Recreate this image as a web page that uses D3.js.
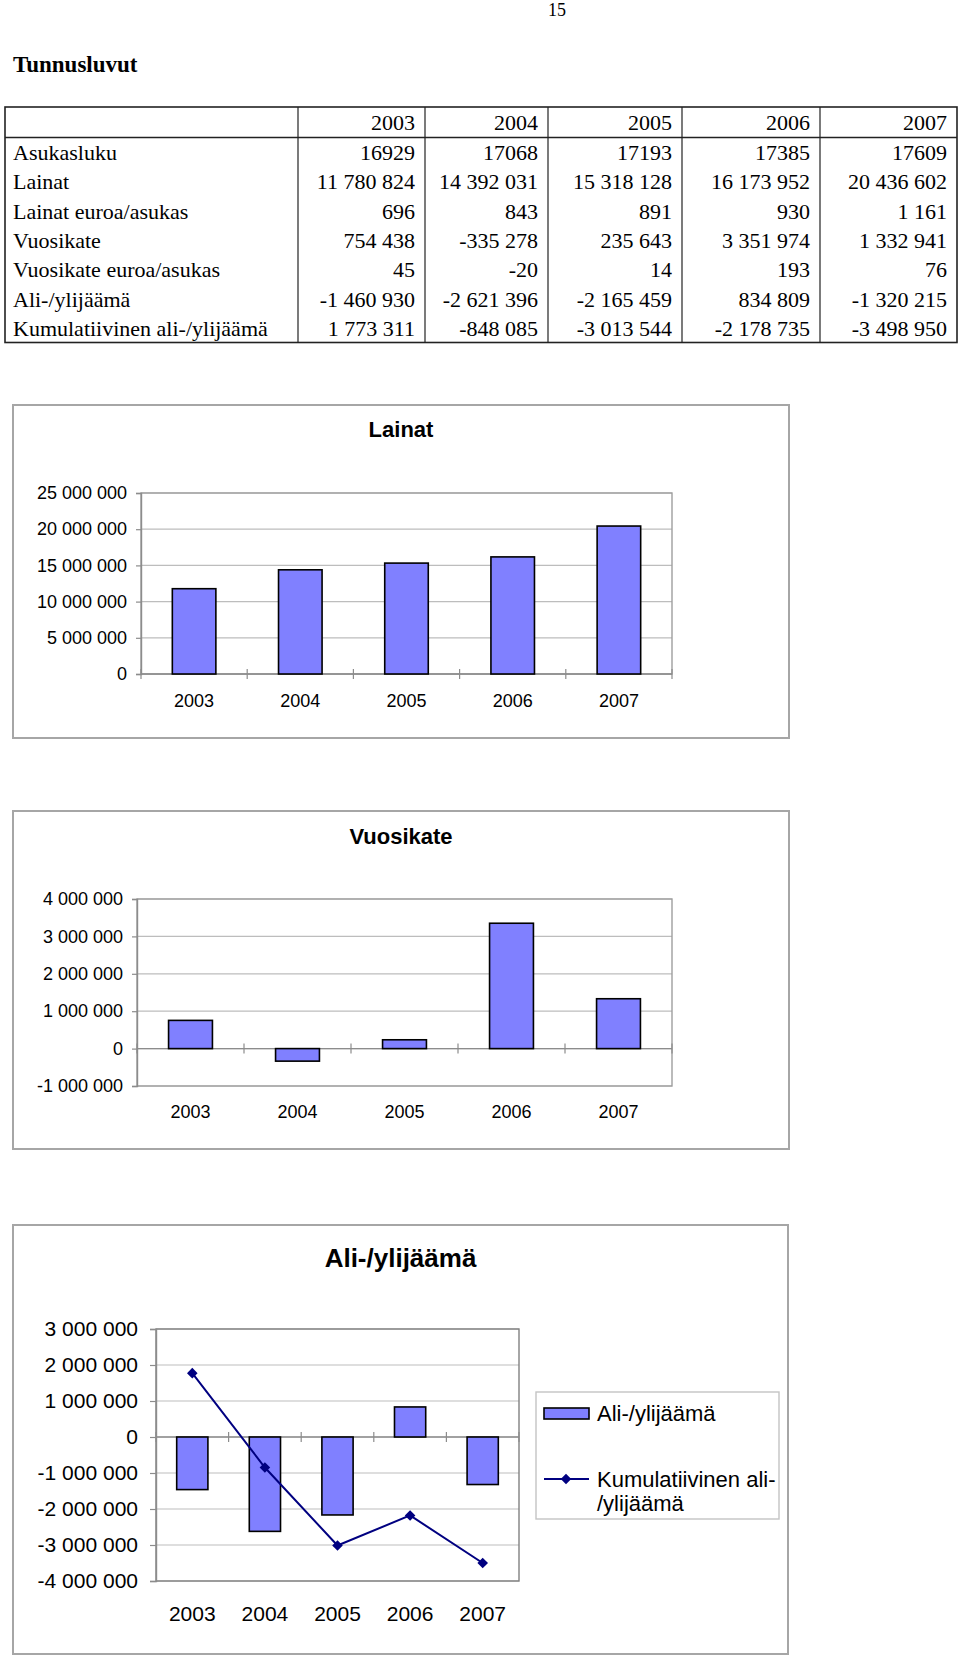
<!DOCTYPE html>
<html lang="fi">
<head>
<meta charset="UTF-8" />
<title>Tunnusluvut</title>
<script src="https://d3js.org/d3.v7.min.js"></script>
<style>
    body { margin: 0; background: #fff; }
    svg { display: block; }
</style>
</head>
<body>
<div id="page"></div>
<script>
// data
const years = ["2003", "2004", "2005", "2006", "2007"];
const asukasluku = [16929, 17068, 17193, 17385, 17609];
const lainat = [11780824, 14392031, 15318128, 16173952, 20436602];
const lainatPerAsukas = [696, 843, 891, 930, 1161];
const vuosikate = [754438, -335278, 235643, 3351974, 1332941];
const vuosikatePerAsukas = [45, -20, 14, 193, 76];
const aliYli = [-1460930, -2621396, -2165459, 834809, -1320215];
const kumulatiivinen = [1773311, -848085, -3013544, -2178735, -3498950];

const rowLabels = ["Asukasluku", "Lainat", "Lainat euroa/asukas", "Vuosikate",
    "Vuosikate euroa/asukas", "Ali-/ylijäämä", "Kumulatiivinen ali-/ylijäämä"];
const rowValues = [asukasluku, lainat, lainatPerAsukas, vuosikate,
    vuosikatePerAsukas, aliYli, kumulatiivinen];
const rowGrouped = [false, true, true, true, true, true, true];

const locale = d3.formatLocale({ decimal: ",", thousands: " ", grouping: [3], currency: ["", ""], minus: "-" });
const fmtGroup = locale.format(",d");
const fmtPlain = locale.format("d");

const W = 960, H = 1656;
const svg = d3.select("#page").append("svg")
    .attr("width", W).attr("height", H)
    .attr("xmlns", "http://www.w3.org/2000/svg");

const serif = "'Liberation Serif', 'Times New Roman', serif";
const sans = "'Liberation Sans', Arial, sans-serif";

// page number + heading
svg.append("text").attr("x", 557).attr("y", 16)
    .attr("text-anchor", "middle")
    .style("font-family", serif).style("font-size", "18px")
    .text("15");

svg.append("text").attr("x", 13).attr("y", 72)
    .style("font-family", serif).style("font-size", "23px").style("font-weight", "bold")
    .text("Tunnusluvut");

// table
const colEdges = [5, 298, 425, 548, 682, 820, 957];
const tableTop = 107, headerBottom = 137.5, tableBottom = 342.5;
const rowY = d3.scaleBand().domain(rowLabels).range([headerBottom, tableBottom]);

const table = svg.append("g").style("font-family", serif).style("font-size", "22px");

table.append("rect")
    .attr("x", colEdges[0]).attr("y", tableTop)
    .attr("width", colEdges[6] - colEdges[0]).attr("height", tableBottom - tableTop)
    .attr("fill", "none").attr("stroke", "#222").attr("stroke-width", 1.6);

table.append("line")
    .attr("x1", colEdges[0]).attr("x2", colEdges[6])
    .attr("y1", headerBottom).attr("y2", headerBottom)
    .attr("stroke", "#222").attr("stroke-width", 1.4);

table.selectAll(".col-line").data(colEdges.slice(1, 6)).join("line")
    .attr("class", "col-line")
    .attr("x1", d => d).attr("x2", d => d)
    .attr("y1", tableTop).attr("y2", tableBottom)
    .attr("stroke", "#222").attr("stroke-width", 1.2);

table.selectAll(".head").data(years).join("text")
    .attr("class", "head")
    .attr("x", (d, i) => colEdges[i + 2] - 10)
    .attr("y", (tableTop + headerBottom) / 2 + 8)
    .attr("text-anchor", "end")
    .text(d => d);

rowLabels.forEach((label, r) => {
    const y = rowY(label) + rowY.bandwidth() / 2 + 8;
    table.append("text").attr("x", 13).attr("y", y).text(label);
    const f = rowGrouped[r] ? fmtGroup : fmtPlain;
    table.selectAll(null).data(rowValues[r]).join("text")
        .attr("x", (d, i) => colEdges[i + 2] - 10)
        .attr("y", y)
        .attr("text-anchor", "end")
        .text(d => f(d));
});

// bar chart helper
function drawChart(opt) {
    const g = svg.append("g").style("font-family", sans);

    g.append("rect")
        .attr("x", opt.frame.x).attr("y", opt.frame.y)
        .attr("width", opt.frame.w).attr("height", opt.frame.h)
        .attr("fill", "#fff").attr("stroke", "#a6a6a6").attr("stroke-width", 2);

    g.append("text")
        .attr("x", opt.frame.x + opt.frame.w / 2).attr("y", opt.titleY)
        .attr("text-anchor", "middle")
        .style("font-size", opt.titleSize + "px").style("font-weight", "bold")
        .text(opt.title);

    const p = opt.plot;
    const x = d3.scaleBand().domain(years).range([p.l, p.r]);
    const y = d3.scaleLinear().domain(opt.domain).range([p.b, p.t]);
    const ticks = d3.range(opt.domain[0], opt.domain[1] + 1, opt.step);

    // gridlines
    g.selectAll(".grid").data(ticks).join("line")
        .attr("x1", p.l).attr("x2", p.r)
        .attr("y1", d => y(d)).attr("y2", d => y(d))
        .attr("stroke", "#bdbdbd").attr("stroke-width", 1.2);

    g.append("rect")
        .attr("x", p.l).attr("y", p.t)
        .attr("width", p.r - p.l).attr("height", p.b - p.t)
        .attr("fill", "none").attr("stroke", opt.plotStroke).attr("stroke-width", 1.4);

    // y axis
    const ya = g.append("g").attr("transform", `translate(${p.l},0)`)
        .call(d3.axisLeft(y).tickValues(ticks).tickFormat(fmtGroup)
            .tickSize(opt.yTickSize).tickPadding(opt.yPad));
    ya.select(".domain").attr("stroke", "#8c8c8c").attr("stroke-width", 1.4);
    ya.selectAll(".tick line").attr("stroke", "#8c8c8c").attr("stroke-width", 1.2);
    ya.selectAll("text").style("font-size", opt.fontSize + "px").attr("fill", "#000")
        .style("font-family", sans);

    // zero line with category boundary ticks
    const y0 = y(0);
    g.append("line").attr("x1", p.l).attr("x2", p.r).attr("y1", y0).attr("y2", y0)
        .attr("stroke", "#8c8c8c").attr("stroke-width", 1.4);
    g.selectAll(".cat-tick").data(d3.range(years.length + 1)).join("line")
        .attr("x1", i => p.l + i * x.step()).attr("x2", i => p.l + i * x.step())
        .attr("y1", y0 - 5).attr("y2", y0 + 5)
        .attr("stroke", "#8c8c8c").attr("stroke-width", 1.2);

    // x labels
    g.selectAll(".xl").data(years).join("text")
        .attr("x", d => x(d) + x.bandwidth() / 2)
        .attr("y", opt.xLabelY)
        .attr("dy", "0.35em")
        .attr("text-anchor", "middle")
        .style("font-size", opt.fontSize + "px")
        .text(d => d);

    // bars
    const bw = x.bandwidth() * opt.barFrac;
    g.selectAll(".bar").data(opt.values).join("rect")
        .attr("x", (d, i) => x(years[i]) + (x.bandwidth() - bw) / 2)
        .attr("y", d => y(Math.max(0, d)))
        .attr("width", bw)
        .attr("height", d => Math.abs(y(d) - y0))
        .attr("fill", "#8080ff").attr("stroke", "#000").attr("stroke-width", 1.6);

    return { g, x, y };
}

drawChart({
    title: "Lainat", titleY: 437, titleSize: 22,
    frame: { x: 13, y: 405, w: 776, h: 333 },
    plot: { l: 141, r: 672, t: 493, b: 674 },
    domain: [0, 25000000], step: 5000000,
    fontSize: 18, yTickSize: 5, yPad: 9, xLabelY: 701,
    barFrac: 0.41, plotStroke: "#9e9e9e",
    values: lainat
});

drawChart({
    title: "Vuosikate", titleY: 844, titleSize: 22,
    frame: { x: 13, y: 811, w: 776, h: 338 },
    plot: { l: 137, r: 672, t: 899, b: 1086 },
    domain: [-1000000, 4000000], step: 1000000,
    fontSize: 18, yTickSize: 5, yPad: 9, xLabelY: 1112,
    barFrac: 0.41, plotStroke: "#9e9e9e",
    values: vuosikate
});

const c3 = drawChart({
    title: "Ali-/ylijäämä", titleY: 1267, titleSize: 26,
    frame: { x: 13, y: 1225, w: 775, h: 429 },
    plot: { l: 156, r: 519, t: 1329, b: 1581 },
    domain: [-4000000, 3000000], step: 1000000,
    fontSize: 21, yTickSize: 6, yPad: 12, xLabelY: 1614,
    barFrac: 0.43, plotStroke: "#808080",
    values: aliYli
});

// cumulative line
const navy = "#000080";
const line = d3.line()
    .x((d, i) => c3.x(years[i]) + c3.x.bandwidth() / 2)
    .y(d => c3.y(d));
c3.g.append("path").datum(kumulatiivinen)
    .attr("d", line).attr("fill", "none")
    .attr("stroke", navy).attr("stroke-width", 2);
const diamond = d3.symbol().type(d3.symbolSquare).size(56);
c3.g.selectAll(".marker").data(kumulatiivinen).join("path")
    .attr("d", diamond)
    .attr("transform", (d, i) =>
        `translate(${c3.x(years[i]) + c3.x.bandwidth() / 2},${c3.y(d)}) rotate(45)`)
    .attr("fill", navy);

// legend
const lg = c3.g.append("g").style("font-family", sans).style("font-size", "22px");
lg.append("rect").attr("x", 536).attr("y", 1392).attr("width", 243).attr("height", 127)
    .attr("fill", "#fff").attr("stroke", "#c4c4c4").attr("stroke-width", 1.4);
lg.append("rect").attr("x", 544).attr("y", 1408).attr("width", 45).attr("height", 11)
    .attr("fill", "#8080ff").attr("stroke", "#000").attr("stroke-width", 1.6);
lg.append("text").attr("x", 597).attr("y", 1413).attr("dy", "0.35em").text("Ali-/ylijäämä");
lg.append("line").attr("x1", 544).attr("x2", 589).attr("y1", 1479).attr("y2", 1479)
    .attr("stroke", navy).attr("stroke-width", 2);
lg.append("path").attr("d", diamond)
    .attr("transform", "translate(566,1479) rotate(45)").attr("fill", navy);
lg.append("text").attr("x", 597).attr("y", 1479).attr("dy", "0.35em").text("Kumulatiivinen ali-");
lg.append("text").attr("x", 597).attr("y", 1503).attr("dy", "0.35em").text("/ylijäämä");
</script>
</body>
</html>
